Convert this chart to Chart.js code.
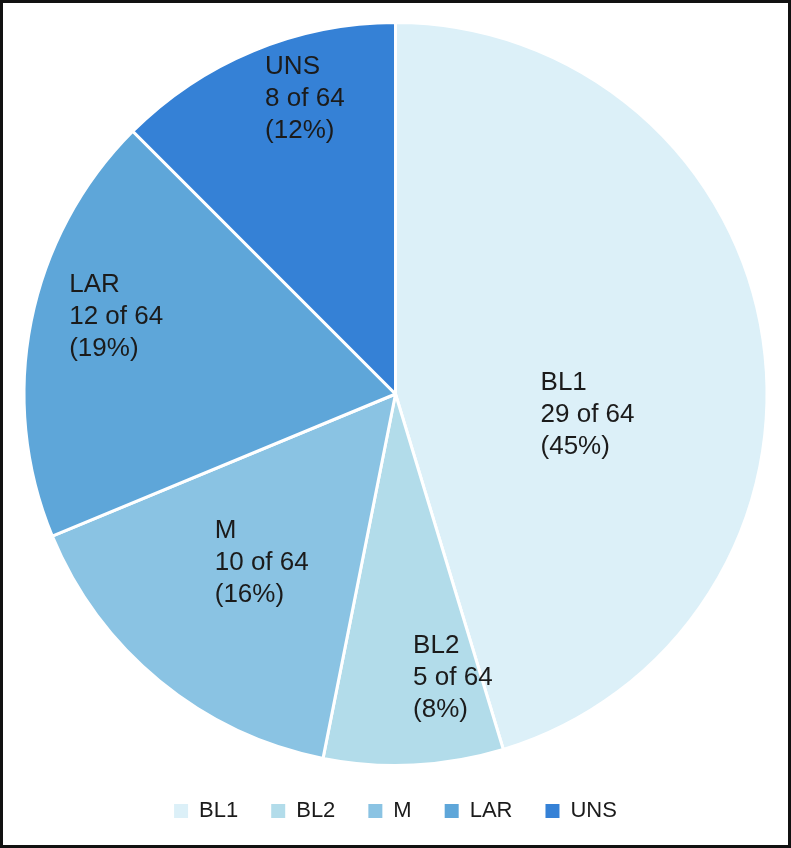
<!DOCTYPE html>
<html>
<head>
<meta charset="utf-8">
<script src="https://cdn.jsdelivr.net/npm/chart.js@4"></script>
<style>
  html, body { margin: 0; padding: 0; background: #fff; }
  #frame {
    width: 791px; height: 848px; box-sizing: border-box;
    border: 3px solid #111; background: #fff; position: relative;
  }
  #frame canvas { display: block; }
</style>
</head>
<body>
<div id="frame"><canvas id="pie" width="785" height="842"></canvas></div>
<script>
// data
var subtypes = ['BL1', 'BL2', 'M', 'LAR', 'UNS'];
var counts = [29, 5, 10, 12, 8];
var totalCases = 64;
var pctLabels = ['45%', '8%', '16%', '19%', '12%'];
var sliceColors = ['#dcf0f8', '#b2dcea', '#8ac3e3', '#5ea6d9', '#3581d6'];

// where each slice label block sits: fraction of radius, degrees turned from mid-angle
var labelSpots = [
  { f: 0.52, turn: 14.7 },
  { f: 0.78, turn: -8.6 },
  { f: 0.58, turn: -1 },
  { f: 0.78, turn: 4.2 },
  { f: 0.83, turn: 5.4 }
];

var sliceLabels = {
  id: 'sliceLabels',
  afterDatasetsDraw(chart) {
    const ctx = chart.ctx;
    const meta = chart.getDatasetMeta(0);
    ctx.save();
    ctx.font = '26px "Liberation Sans", Arial, sans-serif';
    ctx.fillStyle = '#1b1b1b';
    ctx.textBaseline = 'middle';
    ctx.textAlign = 'left';
    meta.data.forEach((arc, i) => {
      const p = arc.getProps(['x', 'y', 'startAngle', 'endAngle', 'outerRadius'], true);
      const spot = labelSpots[i];
      const mid = (p.startAngle + p.endAngle) / 2 + spot.turn * Math.PI / 180;
      const cx = p.x + Math.cos(mid) * p.outerRadius * spot.f;
      const cy = p.y + Math.sin(mid) * p.outerRadius * spot.f;
      const lines = [subtypes[i], counts[i] + ' of ' + totalCases, '(' + pctLabels[i] + ')'];
      const w = Math.max(...lines.map(l => ctx.measureText(l).width));
      lines.forEach((l, k) => {
        ctx.fillText(l, cx - w / 2, cy + (k - 1) * 32);
      });
    });
    ctx.restore();
  }
};

let pie = new Chart('pie', {
  type: 'pie',
  data: {
    labels: subtypes,
    datasets: [{
      data: counts,
      backgroundColor: sliceColors,
      borderColor: '#ffffff',
      borderWidth: 3
    }]
  },
  options: {
    responsive: false,
    animation: false,
    devicePixelRatio: 1,
    layout: { padding: { top: 18, bottom: 13, left: 0, right: 0 } },
    plugins: {
      tooltip: { enabled: false },
      legend: {
        position: 'bottom',
        labels: {
          boxWidth: 14,
          boxHeight: 14,
          padding: 33,
          color: '#1b1b1b',
          font: { size: 22, family: '"Liberation Sans", Arial, sans-serif' },
          generateLabels(chart) {
            return Chart.overrides.pie.plugins.legend.labels.generateLabels(chart)
              .map(item => Object.assign(item, { lineWidth: 0, strokeStyle: 'rgba(0,0,0,0)' }));
          }
        }
      }
    }
  },
  plugins: [sliceLabels]
});
</script>
</body>
</html>
